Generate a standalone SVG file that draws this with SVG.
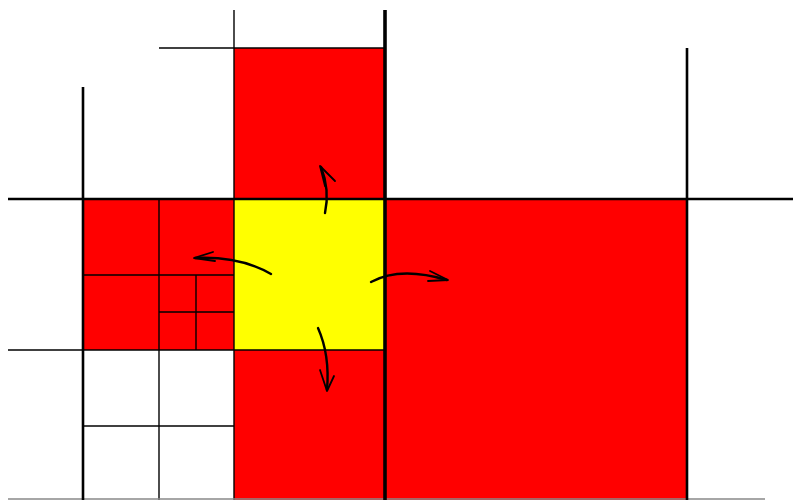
<svg xmlns="http://www.w3.org/2000/svg" width="793" height="500" viewBox="0 0 793 500">
<style>
.red{fill:#ff0000}
.yel{fill:#ffff00}
.thin{stroke:#000;stroke-width:1.4;fill:none}
.thick{stroke:#000;stroke-width:2.6;fill:none}
.arr{stroke:#000;stroke-width:2.4;fill:none;stroke-linecap:round}
.head{stroke:#000;stroke-width:1.8;fill:none;stroke-linecap:round;stroke-linejoin:round}
</style>
<rect width="793" height="500" fill="#fff"/>
<g id="cells">
<rect id="big" class="red" x="385" y="199" width="302" height="301"/>
<rect id="top" class="red" x="234" y="48" width="151" height="151"/>
<rect id="bottom" class="red" x="234" y="350" width="151" height="150"/>
<rect id="left" class="red" x="83" y="199" width="151" height="151"/>
<rect id="center" class="yel" x="234" y="199" width="151" height="151"/>
</g>
<g id="grid">
<line class="thin" x1="159" y1="48" x2="385" y2="48"/>
<line class="thin" x1="234" y1="10" x2="234" y2="500"/>
<line class="thin" x1="8" y1="350" x2="385" y2="350"/>
<line class="thin" x1="83" y1="275" x2="234" y2="275"/>
<line class="thin" x1="83" y1="426" x2="234" y2="426"/>
<line class="thin" x1="159" y1="199" x2="159" y2="500"/>
<line class="thin" x1="196" y1="275" x2="196" y2="350"/>
<line class="thin" x1="159" y1="312" x2="234" y2="312"/>
<line stroke="#888" stroke-width="1.4" x1="8" y1="499" x2="765" y2="499"/>
<line class="thick" x1="8" y1="199" x2="793" y2="199"/>
<line class="thick" x1="83" y1="87" x2="83" y2="500"/>
<line class="thick" x1="687" y1="48" x2="687" y2="500"/>
<line stroke="#000" stroke-width="3.6" x1="385" y1="10" x2="385" y2="500"/>
</g>
<g id="connectors">
<path class="arr" d="M271,274 Q240,256 195,258"/>
<path class="head" d="M213,252 L194,258 L215,261"/>
<path class="arr" d="M371,282 Q400,266 447,280"/>
<path class="head" d="M430,271 L448,280 L428,281"/>
<path class="arr" d="M325,213 Q330,190 321,167"/>
<path class="head" d="M335,181 L320,166 L325,186"/>
<path class="arr" d="M318,328 Q330,355 327,390"/>
<path class="head" d="M320,370 L327,391 L334,376"/>
</g>
</svg>
